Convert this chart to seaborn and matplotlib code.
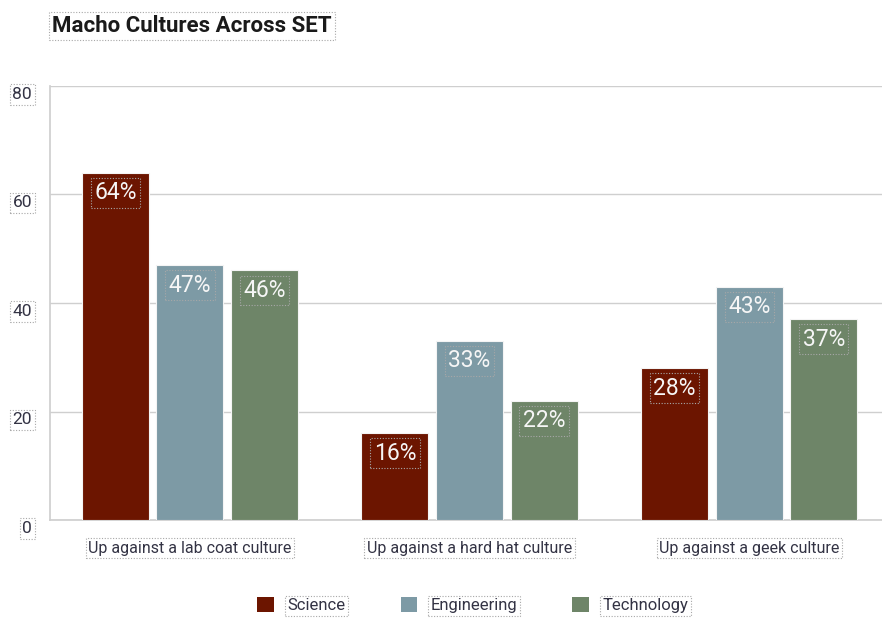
import matplotlib
matplotlib.use("Agg")
import matplotlib.pyplot as plt
import matplotlib.transforms as mtransforms
from matplotlib.patches import Patch
import seaborn as sns
import pandas as pd

# Survey results: share of women reporting each culture, by SET field
categories = ["Up against a lab coat culture",
              "Up against a hard hat culture",
              "Up against a geek culture"]
fields = ["Science", "Engineering", "Technology"]
science = [64, 16, 28]
engineering = [47, 33, 43]
technology = [46, 22, 37]
y_ticks = [0, 20, 40, 60, 80]

colors = {"Science": "#6C1500", "Engineering": "#7D9AA5", "Technology": "#6E8568"}

df = pd.DataFrame({
    "culture": categories * 3,
    "field": [f for f in fields for _ in categories],
    "value": science + engineering + technology,
})

sns.set_theme(style="white")
plt.rcParams["font.family"] = ["Roboto", "DejaVu Sans"]

fig = plt.figure(figsize=(8.82, 6.18), dpi=100)
ax = fig.add_axes([50 / 882, 98 / 618, 1 - 50 / 882, (520 - 86) / 618])

sns.barplot(data=df, x="culture", y="value", hue="field", order=categories,
            hue_order=fields, palette=colors, gap=0.1, width=0.8,
            edgecolor="#f4f4f4", linewidth=0.8, saturation=1,
            legend=False, ax=ax, zorder=3)

box = dict(boxstyle="square,pad=0.15", fc="none", ec="#a8a8a8", ls=(0, (1, 1.5)), lw=0.8)

for container in ax.containers:
    for bar in container:
        h = bar.get_height()
        ax.annotate(f"{h:.0f}%", (bar.get_x() + bar.get_width() / 2, h),
                    xytext=(0, -20), textcoords="offset pixels",
                    ha="center", va="center", fontsize=16.5, color="#f6f6f6",
                    bbox=box, zorder=5)

ax.set_ylim(0, 80)
ax.set_xlim(-0.5, 2.475)
ax.set_yticks(y_ticks)
ax.set_yticklabels([str(t) for t in y_ticks])
ax.yaxis.grid(True, color="#cfcfcf", lw=1, zorder=0)
ax.set_axisbelow(True)
ax.set_xlabel("")
ax.set_ylabel("")
for side in ["top", "right"]:
    ax.spines[side].set_visible(False)
ax.spines["left"].set_color("#cfcfcf")
ax.spines["bottom"].set_color("#cfcfcf")
ax.tick_params(axis="y", length=0, pad=13, labelsize=12.5, labelcolor="#333344")
ax.tick_params(axis="x", length=0, pad=15, labelsize=11.5, labelcolor="#333344")

shift = mtransforms.ScaledTranslation(0, -7 / 100, fig.dpi_scale_trans)
for lbl in ax.get_yticklabels():
    lbl.set_transform(lbl.get_transform() + shift)
for lbl in ax.get_yticklabels() + ax.get_xticklabels():
    lbl.set_bbox(box)

fig.text(52 / 882, 1 - 26 / 618, "Macho Cultures Across SET", fontsize=16,
         fontweight="bold", color="#1a1a1a", va="center", ha="left", bbox=box)

# Legend below the plot
handles = [Patch(facecolor=colors[f], edgecolor="none") for f in fields]
leg = fig.legend(handles, fields, loc="center", bbox_to_anchor=(0.536, 1 - 605 / 618),
                 ncol=3, frameon=False, fontsize=12, handlelength=1.0,
                 handleheight=1.0, columnspacing=3.3, handletextpad=0.8)
for t in leg.get_texts():
    t.set_color("#333344")
    t.set_bbox(box)

fig.savefig("out.png", dpi=100)
